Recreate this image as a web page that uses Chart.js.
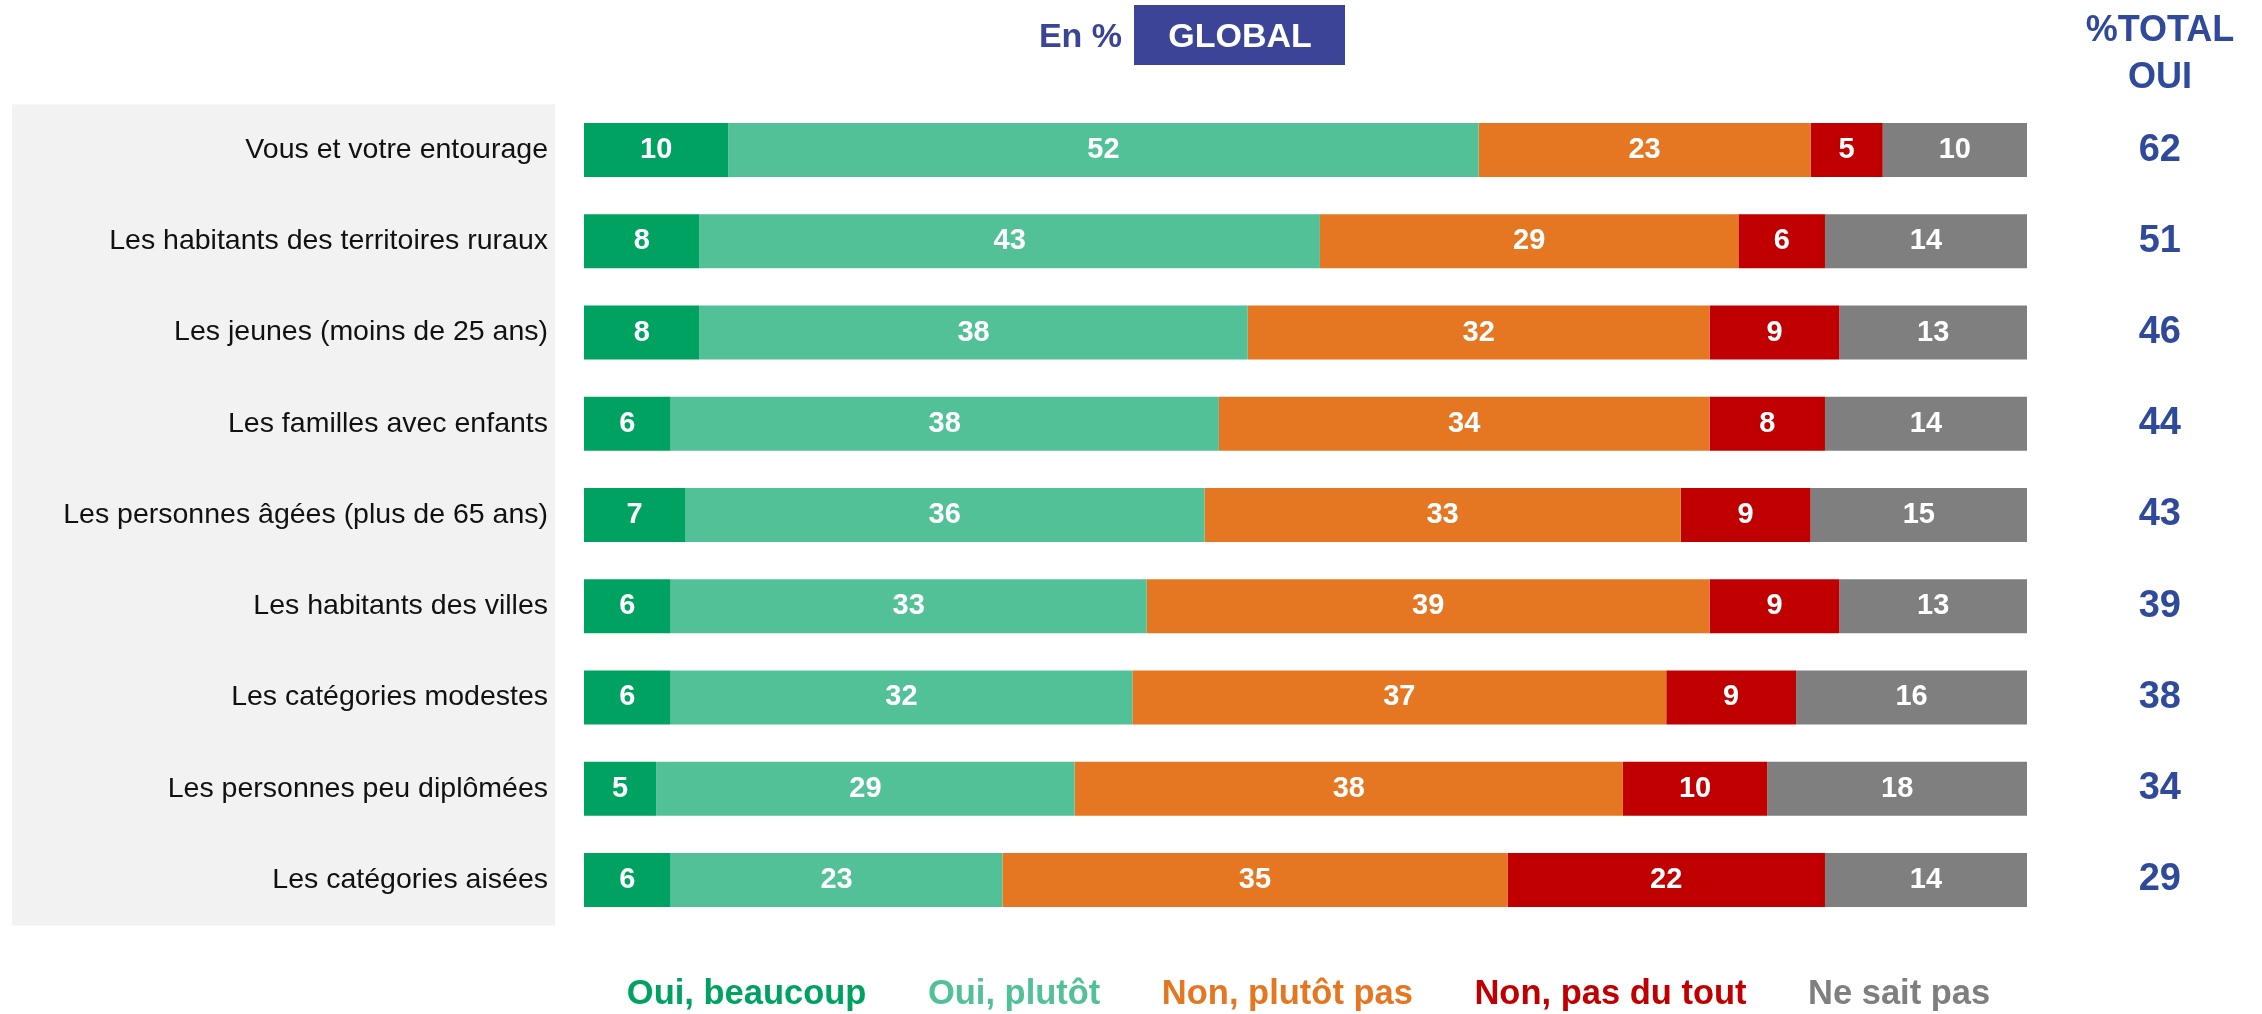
<!DOCTYPE html>
<html><head><meta charset="utf-8">
<script src="https://cdn.jsdelivr.net/npm/chart.js@4.4.1/dist/chart.umd.min.js"></script>
<style>html,body{margin:0;padding:0;overflow:hidden;background:#fff}#wrap{width:2262px;height:1014px;position:relative}</style>
</head><body><div id="wrap"><canvas id="c"></canvas></div>
<script>
const categories = [
  'Vous et votre entourage',
  'Les habitants des territoires ruraux',
  'Les jeunes (moins de 25 ans)',
  'Les familles avec enfants',
  'Les personnes âgées (plus de 65 ans)',
  'Les habitants des villes',
  'Les catégories modestes',
  'Les personnes peu diplômées',
  'Les catégories aisées'
];
const seriesNames = ['Oui, beaucoup', 'Oui, plutôt', 'Non, plutôt pas', 'Non, pas du tout', 'Ne sait pas'];
const ouiBeaucoup  = [10, 8, 8, 6, 7, 6, 6, 5, 6];
const ouiPlutot    = [52, 43, 38, 38, 36, 33, 32, 29, 23];
const nonPlutotPas = [23, 29, 32, 34, 33, 39, 37, 38, 35];
const nonPasDuTout = [5, 6, 9, 8, 9, 9, 9, 10, 22];
const neSaitPas    = [10, 14, 13, 14, 15, 13, 16, 18, 14];
const totalOui     = [62, 51, 46, 44, 43, 39, 38, 34, 29];
const headerLeft = 'En %';
const headerBox = 'GLOBAL';
const totalHeader = ['%TOTAL', 'OUI'];

const colors = ['#00A261', '#52C197', '#E67722', '#C00000', '#7F7F7F'];
const blue = '#2F4A9B';
const boxBlue = '#3B4496';
const FONT = '"Liberation Sans", Arial, sans-serif';
Chart.defaults.font.family = FONT;

const seriesValues = [ouiBeaucoup, ouiPlutot, nonPlutotPas, nonPasDuTout, neSaitPas];

const panelPlugin = {
  id: 'panel',
  beforeDraw(chart) {
    const {ctx, chartArea} = chart;
    ctx.save();
    ctx.fillStyle = '#F2F2F2';
    ctx.fillRect(12, chartArea.top, 543, chartArea.bottom - chartArea.top);
    ctx.restore();
  }
};

const valuesPlugin = {
  id: 'values',
  afterDatasetsDraw(chart) {
    const {ctx} = chart;
    ctx.save();
    ctx.font = 'bold 29px ' + FONT;
    ctx.fillStyle = '#FFFFFF';
    ctx.textAlign = 'center';
    ctx.textBaseline = 'middle';
    chart.data.datasets.forEach((ds, di) => {
      const meta = chart.getDatasetMeta(di);
      meta.data.forEach((el, i) => {
        const c = el.getCenterPoint();
        ctx.fillText(String(ds.data[i]), c.x, c.y);
      });
    });
    ctx.restore();
  }
};

const headerPlugin = {
  id: 'header',
  afterDraw(chart) {
    const {ctx, chartArea} = chart;
    ctx.save();
    ctx.textBaseline = 'middle';
    ctx.font = 'bold 34px ' + FONT;
    ctx.fillStyle = boxBlue;
    ctx.textAlign = 'right';
    ctx.fillText(headerLeft, 1122, 38);
    ctx.fillRect(1134, 5, 211, 60);
    ctx.fillStyle = '#FFFFFF';
    ctx.textAlign = 'center';
    ctx.fillText(headerBox, 1240, 38);
    const x = chartArea.right + 133;
    ctx.fillStyle = blue;
    ctx.font = 'bold 36px ' + FONT;
    ctx.fillText(totalHeader[0], x, 31);
    ctx.fillText(totalHeader[1], x, 78);
    ctx.font = 'bold 34.5px ' + FONT;
    ctx.textAlign = 'left';
    const gap = 61.5;
    const widths = seriesNames.map(t => ctx.measureText(t).width);
    const total = widths.reduce((a, b) => a + b, 0) + gap * (widths.length - 1);
    let lx = (chartArea.left + chartArea.right) / 2 + 3 - total / 2;
    seriesNames.forEach((t, i) => {
      ctx.fillStyle = colors[i];
      ctx.fillText(t, lx, 994);
      lx += widths[i] + gap;
    });
    ctx.restore();
  }
};

new Chart(document.getElementById('c'), {
  type: 'bar',
  data: {
    labels: categories,
    datasets: seriesNames.map((name, i) => ({
      label: name,
      data: seriesValues[i],
      backgroundColor: colors[i],
      borderWidth: 0,
      categoryPercentage: 1,
      barPercentage: 0.592
    }))
  },
  options: {
    indexAxis: 'y',
    responsive: true,
    maintainAspectRatio: false,
    animation: false,
    layout: { padding: { top: 104.4, bottom: 88.4, left: 0, right: 81 } },
    plugins: { legend: { display: false }, tooltip: { enabled: false } },
    scales: {
      x: { stacked: true, min: 0, max: 100, display: false },
      y: {
        stacked: true,
        position: 'left',
        grid: { display: false, drawTicks: false },
        border: { display: false },
        ticks: { color: '#111111', font: { size: 28.5 }, padding: 36, autoSkip: false, crossAlign: 'near' },
        afterFit(s) { s.width = 584; }
      },
      y2: {
        type: 'category',
        position: 'right',
        labels: totalOui.map(String),
        offset: true,
        grid: { display: false, drawTicks: false },
        border: { display: false },
        ticks: { color: blue, font: { size: 38, weight: 'bold' }, padding: 0, autoSkip: false, crossAlign: 'far' },
        afterFit(s) { s.width = 154; }
      }
    }
  },
  plugins: [panelPlugin, valuesPlugin, headerPlugin]
});
</script>
</body></html>
